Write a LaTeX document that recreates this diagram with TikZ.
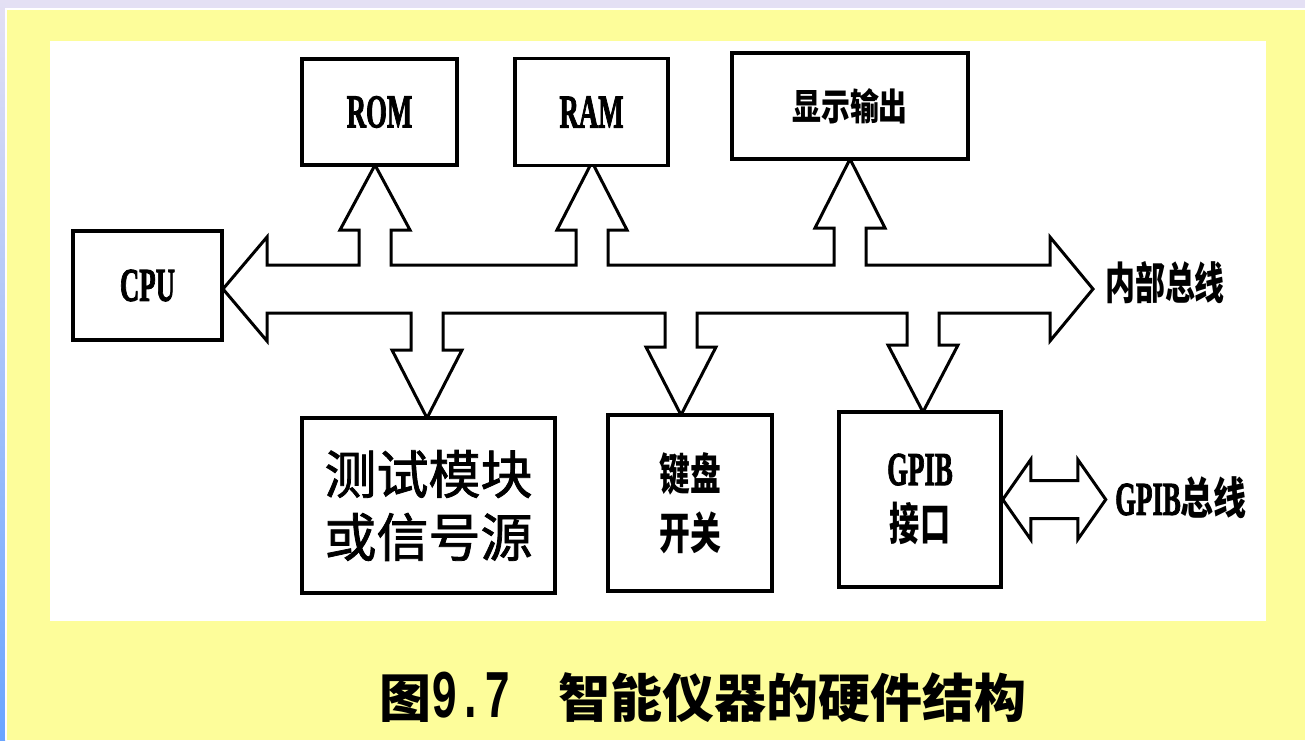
\documentclass[tikz,border=0pt]{standalone}
\usepackage{fontspec}
\newfontfamily\cjk{Noto Sans CJK SC}
\newfontfamily\cjkt{Noto Sans CJK SC}[FakeBold=1.5]
\newfontfamily\lser{Liberation Serif}[FakeBold=2.5]
\newfontfamily\lmono{Liberation Mono}
\definecolor{lav}{RGB}{228,224,244}
\definecolor{blu}{RGB}{106,165,255}
\definecolor{yel}{RGB}{253,253,154}
\newcommand\fs[1]{\fontsize{#1}{#1}\selectfont}
\newcommand\lat[1]{\scalebox{0.57}[1]{\lser\bfseries #1}}
\newcommand\hz[2]{\scalebox{#1}[1]{\cjk\bfseries #2}}
\tikzset{
  box/.style={draw, line width=3.5pt, fill=white, inner sep=0pt, align=center},
  hollow/.style={draw, line width=3pt, fill=white, line join=miter},
  lbl/.style={inner sep=0pt, align=center}
}
\begin{document}
\begin{tikzpicture}[x=1pt,y=-1pt]
\useasboundingbox (0,0) rectangle (1305,740);
% background
\fill[lav] (0,0) rectangle (1305,740);
\shade[top color=lav, bottom color=blu] (0,0) rectangle (5,740);
\fill[white] (5,8) rectangle (1305,740);
\fill[yel] (7,10) rectangle (1305,740);
\fill[white] (50,41) rectangle (1266,621);

% bus
\draw[hollow] (223,289) -- (267,237) -- (267,265) -- (359,265) -- (359,230) -- (340,230) -- (375,165) -- (410,230) -- (391,230) -- (391,265)
 -- (576,265) -- (576,230) -- (557,230) -- (592,162) -- (627,230) -- (608,230) -- (608,265)
 -- (834,265) -- (834,228) -- (815,228) -- (850,159) -- (885,228) -- (866,228) -- (866,265)
 -- (1050,265) -- (1050,237) -- (1093,289) -- (1050,341) -- (1050,313)
 -- (939,313) -- (939,345) -- (958,345) -- (923,412) -- (888,345) -- (907,345) -- (907,313)
 -- (697,313) -- (697,347) -- (716,347) -- (681,415) -- (646,347) -- (665,347) -- (665,313)
 -- (443,313) -- (443,350) -- (462,350) -- (427,418) -- (392,350) -- (411,350) -- (411,313)
 -- (267,313) -- (267,341) -- cycle;

% boxes
\node[box, minimum width=149pt, minimum height=109pt] (cpu) at (147.5,285.5) {\fs{47}\lat{CPU}};
\node[box, minimum width=155pt, minimum height=106pt] (rom) at (379.5,112) {\fs{47}\lat{ROM}};
\node[box, minimum width=153pt, minimum height=107pt] (ram) at (591.5,112) {\fs{47}\lat{RAM}};
\node[box, minimum width=236pt, minimum height=106pt] (disp) at (850,106) {\fs{37}\hz{0.78}{显示输出}};
\node[box, minimum width=253pt, minimum height=175pt] (test) at (428.5,505.5)
  {\fs{52}\cjkt 测试模块\\[14pt] \fs{52}\cjkt 或信号源};
\node[box, minimum width=164pt, minimum height=176pt] (kbd) at (690,503)
  {\fs{44}\hz{0.7}{键盘}\\[15pt] \fs{44}\hz{0.7}{开关}};
\node[box, minimum width=162pt, minimum height=175pt] (gpib) at (920,499.5)
  {\fs{47}\lat{GPIB}\\[16pt] \fs{45}\hz{0.67}{接口}};

% labels
\node[lbl] (nbus) at (1165,283) {\fs{44}\hz{0.68}{内部总线}};
\node[lbl] (gbus) at (1181,498) {\fs{47}\lat{GPIB}\fs{44}\hz{0.75}{总线}};

% GPIB double arrow
\draw[hollow] (gpib.east) -- ++(28,-40) -- ++(0,21) -- ++(47,0) -- ++(0,-21) -- ++(28,40)
  -- ++(-28,40) -- ++(0,-21) -- ++(-47,0) -- ++(0,21) -- cycle;

% caption
\node[lbl] (cap) at (703,697) {\fs{52}\cjk\bfseries 图\fs{68}\scalebox{0.65}[1]{\lmono\bfseries 9.7}\hspace{48pt}\fs{52}\cjk\bfseries 智能仪器的硬件结构};
\end{tikzpicture}
\end{document}
